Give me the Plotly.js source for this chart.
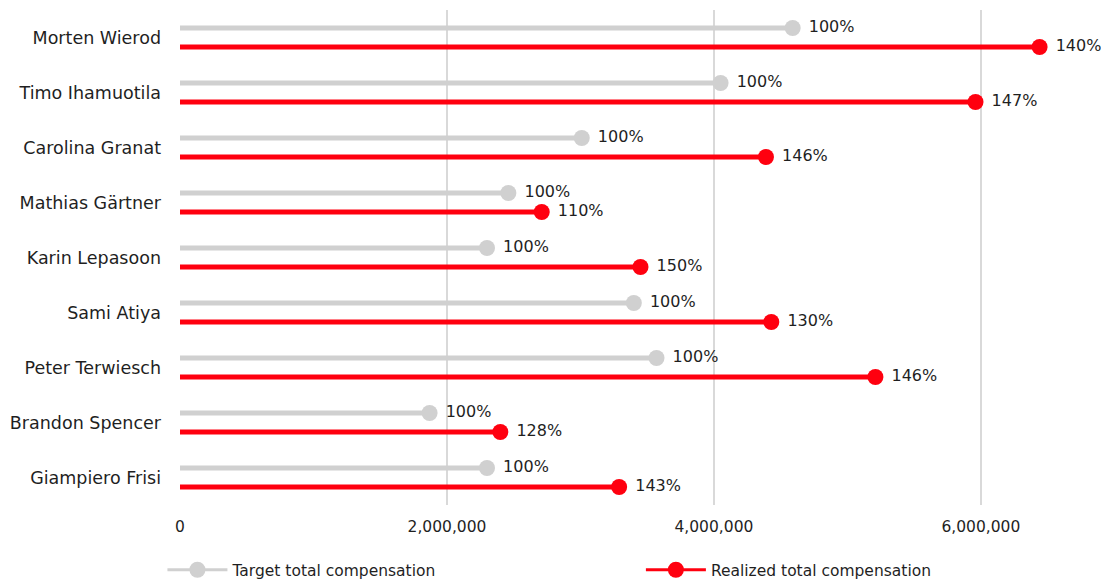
<!DOCTYPE html>
<html>
<head>
<meta charset="utf-8">
<script src="https://cdn.plot.ly/plotly-3.0.1.min.js"></script>
<style>html,body{margin:0;padding:0;background:#fff;}#chart{width:1105px;height:583px;}</style>
</head>
<body>
<div id="chart"></div>
<script>
// Data
const names = ["Morten Wierod","Timo Ihamuotila","Carolina Granat","Mathias Gärtner","Karin Lepasoon","Sami Atiya","Peter Terwiesch","Brandon Spencer","Giampiero Frisi"];
const targetComp = [4590000, 4050000, 3010000, 2460000, 2300000, 3400000, 3570000, 1870000, 2300000];
const realizedComp = [6440000, 5960000, 4390000, 2710000, 3450000, 4430000, 5210000, 2400000, 3290000];
const targetPct = ["100%","100%","100%","100%","100%","100%","100%","100%","100%"];
const realizedPct = ["140%","147%","146%","110%","150%","130%","146%","128%","143%"];
const xTicks = [0, 2000000, 4000000, 6000000];
const xTickText = ["0","2,000,000","4,000,000","6,000,000"];

const GRAY = "#d0d0d0", RED = "#ff000f";
const OFF = 0.173;
const idx = names.map((_, i) => i);

function segs(vals, off) {
  const x = [], y = [];
  vals.forEach((v, i) => { x.push(0, v, null); y.push(i + off, i + off, null); });
  return {x, y};
}
function pts(vals, off) {
  const x = [], y = [];
  vals.forEach((v, i) => { x.push(v, null); y.push(i + off, null); });
  return {x, y};
}
function withGaps(arr) { const o = []; arr.forEach(t => o.push("\u00a0" + t, "")); return o; }

const gs = segs(targetComp, -OFF), rs = segs(realizedComp, OFF);
const gp = pts(targetComp, -OFF), rp = pts(realizedComp, OFF);
const font = "DejaVu Sans, sans-serif";

const traces = [
  {x: gs.x, y: gs.y, mode: "lines", line: {color: GRAY, width: 5}, showlegend: false, hoverinfo: "skip"},
  {x: rs.x, y: rs.y, mode: "lines", line: {color: RED, width: 5}, showlegend: false, hoverinfo: "skip"},
  {x: gp.x, y: gp.y, mode: "lines+markers+text", name: "Target total compensation", legend: "legend",
   line: {color: GRAY, width: 3}, marker: {color: GRAY, size: 16},
   text: withGaps(targetPct), textposition: "middle right", textfont: {size: 16, color: "#1f1f1f", family: font}},
  {x: rp.x, y: rp.y, mode: "lines+markers+text", name: "Realized total compensation", legend: "legend2",
   line: {color: RED, width: 3}, marker: {color: RED, size: 16},
   text: withGaps(realizedPct), textposition: "middle right", textfont: {size: 16, color: "#1f1f1f", family: font}}
];

const legendBase = {orientation: "h", xref: "container", xanchor: "left",
                    y: 0.022, yref: "container", yanchor: "middle", font: {size: 15.5}, itemwidth: 60};

const layout = {
  width: 1105, height: 583,
  margin: {l: 180, r: 4, t: 10, b: 78},
  paper_bgcolor: "#fff", plot_bgcolor: "#fff",
  font: {family: font, color: "#1f1f1f", size: 15},
  showlegend: true,
  xaxis: {range: [0, 6900000], tickvals: xTicks, ticktext: xTickText, showgrid: true,
          gridcolor: "#d9d9d9", gridwidth: 2, zeroline: false, showline: false,
          ticks: "", ticklabelstandoff: 10, tickfont: {size: 15.5}, fixedrange: true},
  yaxis: {range: [8.5, -0.5], tickvals: idx, ticktext: names, showgrid: false, zeroline: false,
          showline: false, ticks: "", ticklabelstandoff: 18, tickfont: {size: 17.5}},
  legend: Object.assign({}, legendBase, {x: 0.147}),
  legend2: Object.assign({}, legendBase, {x: 0.58})
};

Plotly.newPlot("chart", traces, layout, {displayModeBar: false, staticPlot: true});
</script>
</body>
</html>
